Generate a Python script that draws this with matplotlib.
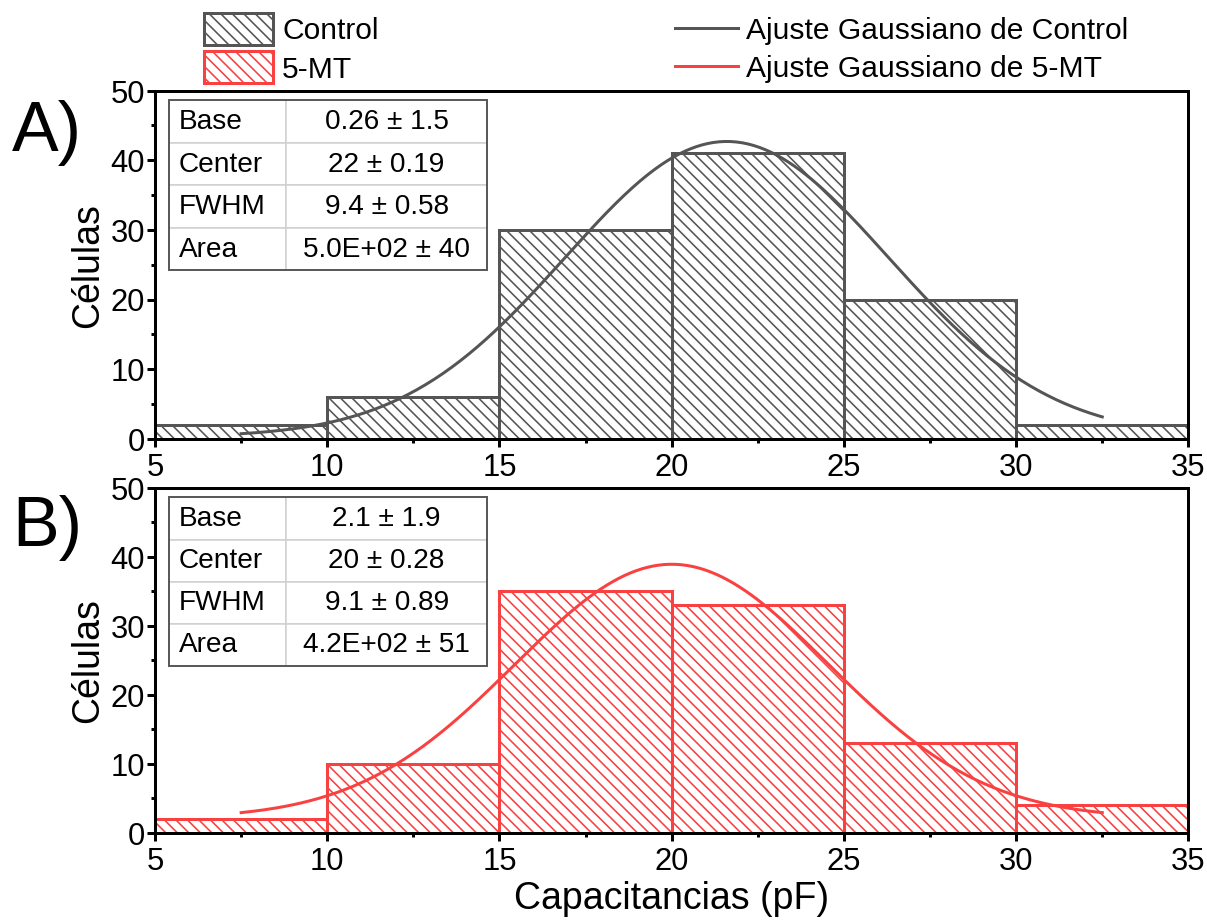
import numpy as np
import matplotlib
matplotlib.use("Agg")
import matplotlib.pyplot as plt
from matplotlib.patches import Rectangle
from matplotlib.ticker import MultipleLocator

plt.rcParams['font.family'] = ['Liberation Sans', 'DejaVu Sans']

DPI = 138
W_PX, H_PX = 1207, 924


def px(v):
    """Pixels -> points at the output resolution."""
    return v * 72.0 / DPI


plt.rcParams['hatch.linewidth'] = px(1.6)

# ---- data -------------------------------------------------------------
bin_edges = [5, 10, 15, 20, 25, 30, 35]
control_counts = [2, 6, 30, 41, 20, 2]
mt_counts = [2, 10, 35, 33, 13, 4]

# Gaussian fit: y = y0 + A / (w*sqrt(pi/2)) * exp(-2 (x-xc)^2 / w^2)
control_base, control_center, control_w, control_area = 0.26, 21.6, 9.4, 500.0
mt_base, mt_center, mt_w, mt_area = 2.1, 20.0, 9.1, 420.0
fit_range = [7.5, 32.5]

table_params = ["Base", "Center", "FWHM", "Area"]
control_table_values = ["0.26 ± 1.5", "22 ± 0.19", "9.4 ± 0.58", "5.0E+02 ± 40"]
mt_table_values = ["2.1 ± 1.9", "20 ± 0.28", "9.1 ± 0.89", "4.2E+02 ± 51"]

series_labels = ["Control", "5-MT"]
fit_labels = ["Ajuste Gaussiano de Control", "Ajuste Gaussiano de 5-MT"]
panel_labels = ["A)", "B)"]

GREY = "#555555"
RED = "#F94141"


def gauss(x, y0, xc, w, area):
    return y0 + area / (w * np.sqrt(np.pi / 2)) * np.exp(-2 * (x - xc) ** 2 / w ** 2)


# ---- figure -------------------------------------------------------------
fig = plt.figure(figsize=((W_PX + 0.4) / DPI, (H_PX + 0.4) / DPI), dpi=DPI)


def fx(x):
    return x / W_PX


def fy(y):
    return 1 - y / H_PX


ax_a = fig.add_axes([fx(155), fy(439), fx(1188) - fx(155), fy(91) - fy(439)])
ax_b = fig.add_axes([fx(155), fy(833), fx(1188) - fx(155), fy(488) - fy(833)])

TICK_FS = px(31)
LABEL_FS = px(37.5)
TABLE_FS = px(28)


def draw_panel(ax, counts, color, fit, values, label, fit_label):
    lefts = bin_edges[:-1]
    widths = np.diff(bin_edges)
    bars = ax.bar(lefts, counts, width=widths, align='edge', facecolor='white',
                  edgecolor=color, hatch='\\\\\\\\', linewidth=px(3), label=label,
                  zorder=2)
    xs = np.linspace(fit_range[0], fit_range[1], 300)
    line, = ax.plot(xs, gauss(xs, *fit), color=color, lw=px(3), label=fit_label,
                    zorder=3)

    ax.set_xlim(5, 35)
    ax.set_ylim(0, 50)
    ax.xaxis.set_major_locator(MultipleLocator(5))
    ax.xaxis.set_minor_locator(MultipleLocator(2.5))
    ax.yaxis.set_major_locator(MultipleLocator(10))
    ax.yaxis.set_minor_locator(MultipleLocator(5))
    ax.tick_params(which='major', direction='out', length=px(8), width=px(3),
                   labelsize=TICK_FS, pad=px(6))
    ax.tick_params(axis='y', which='major', pad=px(2))
    ax.tick_params(which='minor', direction='out', length=px(4), width=px(3))
    for sp in ax.spines.values():
        sp.set_linewidth(px(3))
    ax.set_ylabel("Células", fontsize=LABEL_FS, labelpad=px(4))

    # fit-parameter table
    x0, x1 = (169 - 155) / 1033, (487 - 155) / 1033
    h_ax = 348
    top = 0.972
    bottom = top - 170 / h_ax
    split = x0 + (286 - 169) / 1033
    tbl = ax.table(cellText=[[p, v] for p, v in zip(table_params, values)],
                   cellLoc='center', bbox=[x0, bottom, x1 - x0, top - bottom],
                   colWidths=[split - x0, x1 - split], zorder=5)
    tbl.auto_set_font_size(False)
    for (r, c), cell in tbl.get_celld().items():
        cell.set_edgecolor('#D0D0D0')
        cell.set_linewidth(px(1.5))
        cell.set_facecolor('white')
        cell.get_text().set_fontsize(TABLE_FS)
        if c == 0:
            cell.get_text().set_ha('left')
            cell._loc = 'left'
            cell.PAD = 10 / (286 - 169)
    ax.add_patch(Rectangle((x0, bottom), x1 - x0, top - bottom, transform=ax.transAxes,
                           fill=False, edgecolor='#5A5A5A', lw=px(2), zorder=6))
    return bars, line


bars_a, line_a = draw_panel(ax_a, control_counts, GREY,
                            (control_base, control_center, control_w, control_area),
                            control_table_values, series_labels[0], fit_labels[0])
bars_b, line_b = draw_panel(ax_b, mt_counts, RED,
                            (mt_base, mt_center, mt_w, mt_area),
                            mt_table_values, series_labels[1], fit_labels[1])
ax_b.set_xlabel("Capacitancias (pF)", fontsize=LABEL_FS, labelpad=px(4))

fig.text(fx(12), fy(151), panel_labels[0], fontsize=px(70), va='baseline', ha='left')
fig.text(fx(12), fy(546), panel_labels[1], fontsize=px(70), va='baseline', ha='left')

LEG_FS = px(30)
fig.legend([bars_a, bars_b], series_labels, loc='upper left',
           bbox_to_anchor=(fx(204), fy(13)), frameon=False, fontsize=LEG_FS,
           handlelength=2.3, handleheight=1.28, handletextpad=0.3,
           labelspacing=0.2, borderpad=0, borderaxespad=0)
fig.legend([line_a, line_b], fit_labels, loc='upper left',
           bbox_to_anchor=(fx(675), fy(17)), frameon=False, fontsize=LEG_FS,
           handlelength=2.1, handletextpad=0.27,
           labelspacing=0.32, borderpad=0, borderaxespad=0)

fig.savefig("out.png", dpi=DPI, facecolor='white')
